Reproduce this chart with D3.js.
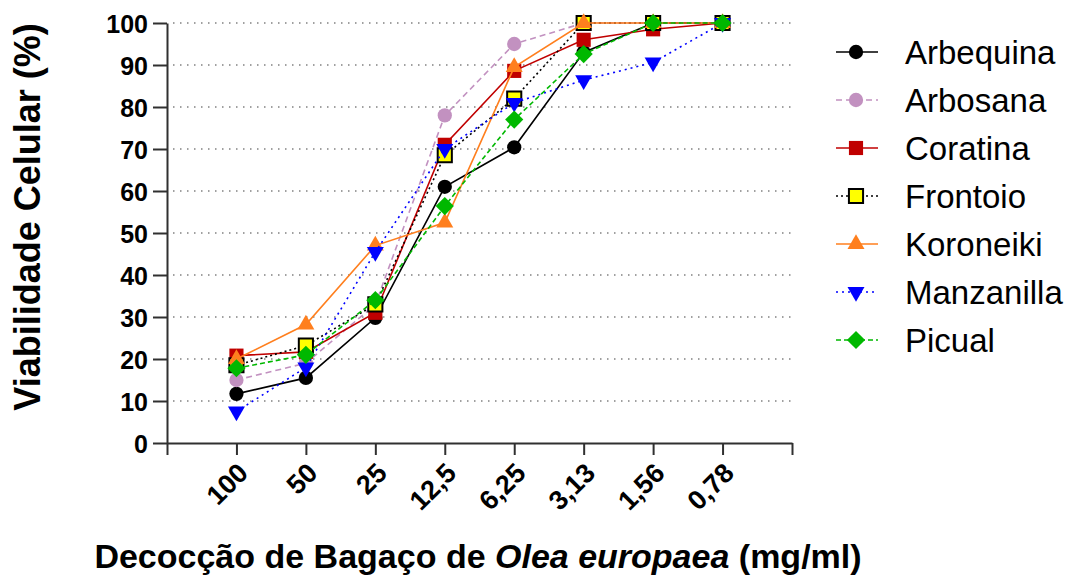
<!DOCTYPE html>
<html>
<head>
<meta charset="utf-8">
<script src="https://cdn.jsdelivr.net/npm/d3@7"></script>
<style>
  body { margin: 0; background: #fff; }
  text { font-family: "Liberation Sans", Arial, sans-serif; }
</style>
</head>
<body>
<svg id="chart" width="1065" height="576"></svg>
<script>
// concentrations (mg/ml), in plotted order
var doses = ['100', '50', '25', '12,5', '6,25', '3,13', '1,56', '0,78'];
var yTicks = [0, 10, 20, 30, 40, 50, 60, 70, 80, 90, 100];

var arbequina  = [11.7, 15.5, 29.8, 61, 70.4, 93, 100, 100];
var arbosana   = [15, 19, 33, 78, 95, 100, 100, 100];
var coratina   = [20.8, 21.7, 31, 71, 88.6, 96, 98.5, 100];
var frontoio   = [18.5, 23.2, 33, 68.5, 82, 100, 100, 100];
var koroneiki  = [20, 28.2, 47, 52.5, 89.5, 100, 100, 100];
var manzanilla = [7.5, 18, 45.5, 70, 81, 86.4, 90.6, 100];
var picual     = [17.8, 21, 34, 56.4, 77, 92.6, 100, 100];

var series = [
  {name: 'Arbequina',  values: arbequina,  color: '#000000', fill: '#000000', dash: null,  symbol: 'circle'},
  {name: 'Arbosana',   values: arbosana,   color: '#c291c0', fill: '#c291c0', dash: '6,4', symbol: 'circle'},
  {name: 'Coratina',   values: coratina,   color: '#c00000', fill: '#c00000', dash: null,  symbol: 'square'},
  {name: 'Frontoio',   values: frontoio,   color: '#000000', fill: '#ffff00', dash: '2,3', symbol: 'square'},
  {name: 'Koroneiki',  values: koroneiki,  color: '#ff7f1e', fill: '#ff7f1e', dash: null,  symbol: 'up'},
  {name: 'Manzanilla', values: manzanilla, color: '#0000ff', fill: '#0000ff', dash: '2,4', symbol: 'down'},
  {name: 'Picual',     values: picual,     color: '#00b800', fill: '#00b800', dash: '5,3', symbol: 'diamond'}
];

var svg = d3.select('#chart');
var plotLeft = 167, plotRight = 792, plotTop = 23, plotBottom = 443;

var x = d3.scaleLinear().domain([0, doses.length + 1]).range([plotLeft, plotRight]);
var y = d3.scaleLinear().domain([0, 100]).range([plotBottom, plotTop]);

// dotted grid
svg.append('g')
  .selectAll('line')
  .data(yTicks.slice(1))
  .enter()
  .append('line')
  .attr('x1', plotLeft + 6)
  .attr('x2', plotRight + 3)
  .attr('y1', d => y(d))
  .attr('y2', d => y(d))
  .attr('stroke', '#a0a0a0')
  .attr('stroke-width', 2)
  .attr('stroke-dasharray', '1.5,5.5');

// y axis
var yAxis = svg.append('g')
  .attr('transform', `translate(${plotLeft},0)`)
  .call(d3.axisLeft(y).tickValues(yTicks).tickSize(14).tickSizeOuter(0).tickPadding(5));
yAxis.selectAll('text')
  .style('font-size', '25px')
  .style('font-weight', 'bold')
  .attr('fill', '#000')
  .attr('dy', '0.36em');

// x axis
var xAxis = svg.append('g')
  .attr('transform', `translate(0,${plotBottom})`)
  .call(d3.axisBottom(x)
    .tickValues(d3.range(0, doses.length + 2))
    .tickSize(12)
    .tickSizeOuter(0)
    .tickFormat(i => (i >= 1 && i <= doses.length) ? doses[i - 1] : ''));
xAxis.selectAll('text')
  .style('font-size', '27px')
  .style('font-weight', 'bold')
  .attr('fill', '#000')
  .attr('x', 0)
  .attr('y', 0)
  .attr('text-anchor', 'end')
  .attr('dy', '0.35em')
  .attr('transform', 'translate(6,25) rotate(-45)');

svg.selectAll('.domain, .tick line')
  .attr('stroke', '#303030')
  .attr('stroke-width', 2);

// markers
function symbolPath(s) {
  if (s === 'circle') return d3.symbol().type(d3.symbolCircle).size(160)();
  if (s === 'square') return d3.symbol().type(d3.symbolSquare).size(200)();
  if (s === 'diamond') return d3.symbol().type(d3.symbolSquare).size(165)();
  return d3.symbol().type(d3.symbolTriangle).size(125)();
}
function symbolTransform(s, px, py) {
  if (s === 'down') return `translate(${px},${py}) rotate(180)`;
  if (s === 'diamond') return `translate(${px},${py}) rotate(45)`;
  return `translate(${px},${py})`;
}

var line = d3.line()
  .x((d, i) => x(i + 1))
  .y(d => y(d));

series.forEach(function(s) {
  var g = svg.append('g');
  g.append('path')
    .datum(s.values)
    .attr('d', line)
    .attr('fill', 'none')
    .attr('stroke', s.color)
    .attr('stroke-width', 1.6)
    .attr('stroke-dasharray', s.dash);
  g.selectAll('path.pt')
    .data(s.values)
    .enter()
    .append('path')
    .attr('class', 'pt')
    .attr('d', symbolPath(s.symbol))
    .attr('transform', (d, i) => symbolTransform(s.symbol, x(i + 1), y(d)))
    .attr('fill', s.fill)
    .attr('stroke', s.name === 'Frontoio' ? '#000' : 'none')
    .attr('stroke-width', 2);
});

// legend
var legend = svg.append('g');
series.forEach(function(s, i) {
  var ly = 52 + i * 48;
  legend.append('line')
    .attr('x1', 836).attr('x2', 878)
    .attr('y1', ly).attr('y2', ly)
    .attr('stroke', s.color)
    .attr('stroke-width', 1.6)
    .attr('stroke-dasharray', s.dash);
  legend.append('path')
    .attr('d', symbolPath(s.symbol))
    .attr('transform', symbolTransform(s.symbol, 856, ly))
    .attr('fill', s.fill)
    .attr('stroke', s.name === 'Frontoio' ? '#000' : 'none')
    .attr('stroke-width', 2);
  legend.append('text')
    .attr('x', 905)
    .attr('y', ly)
    .attr('dy', '0.36em')
    .style('font-size', '33px')
    .attr('fill', '#000')
    .text(s.name);
});

// axis titles
svg.append('text')
  .attr('transform', 'translate(40,217) rotate(-90)')
  .attr('text-anchor', 'middle')
  .style('font-size', '36px')
  .style('font-weight', 'bold')
  .text('Viabilidade Celular (%)');

var xt = svg.append('text')
  .attr('x', 478)
  .attr('y', 568)
  .attr('text-anchor', 'middle')
  .style('font-size', '34px')
  .style('font-weight', 'bold');
xt.append('tspan').text('Decocção de Bagaço de ');
xt.append('tspan').style('font-style', 'italic').text('Olea europaea');
xt.append('tspan').text(' (mg/ml)');
</script>
</body>
</html>
